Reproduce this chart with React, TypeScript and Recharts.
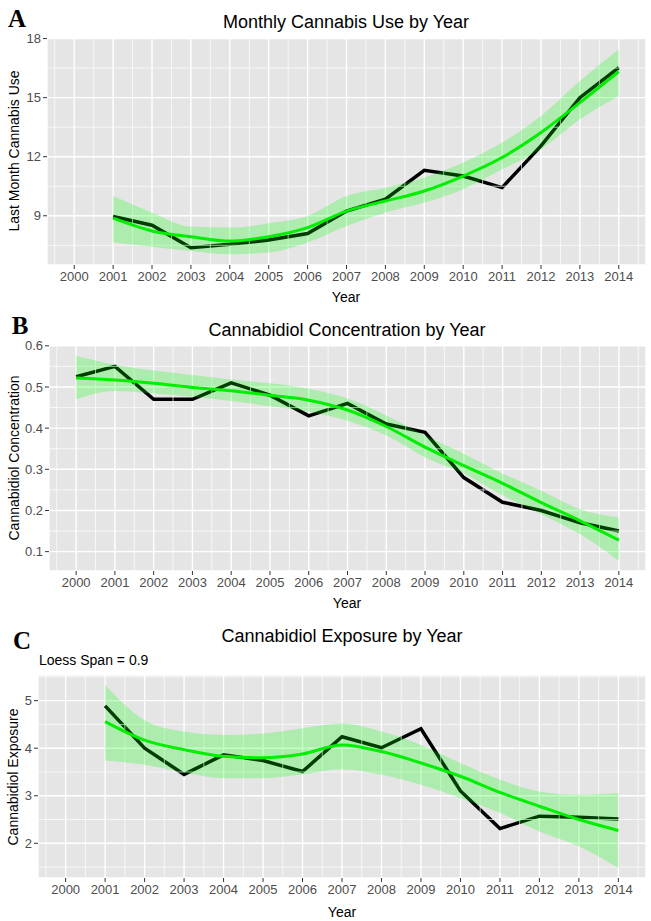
import { ComposedChart, Line, Area, XAxis, YAxis, CartesianGrid, ReferenceLine } from 'recharts'

const years = [2000, 2001, 2002, 2003, 2004, 2005, 2006, 2007, 2008, 2009, 2010, 2011, 2012, 2013, 2014]
const minorYears = [1999.5, 2000.5, 2001.5, 2002.5, 2003.5, 2004.5, 2005.5, 2006.5, 2007.5, 2008.5, 2009.5, 2010.5, 2011.5, 2012.5, 2013.5, 2014.5]

// A: monthly cannabis use
const useYears = [2001, 2002, 2003, 2004, 2005, 2006, 2007, 2008, 2009, 2010, 2011, 2012, 2013, 2014]
const useObserved = [8.96, 8.52, 7.38, 7.55, 7.77, 8.1, 9.24, 9.84, 11.31, 11.02, 10.43, 12.55, 15.0, 16.53]
const useFit = [8.88, 8.23, 7.94, 7.72, 7.94, 8.4, 9.24, 9.75, 10.26, 11.02, 11.96, 13.23, 14.75, 16.33]
const useLower = [7.64, 7.43, 7.21, 7.04, 7.13, 7.64, 8.48, 9.16, 9.67, 10.35, 11.36, 12.38, 13.9, 15.09]
const useUpper = [10.0, 9.16, 8.45, 8.4, 8.62, 8.99, 10.0, 10.43, 10.94, 11.7, 12.72, 14.07, 15.85, 17.46]
const useTicks = [9, 12, 15, 18]
const useMinor = [7.5, 10.5, 13.5, 16.5]

// B: cannabidiol concentration
const concYears = [2000, 2001, 2002, 2003, 2004, 2005, 2006, 2007, 2008, 2009, 2010, 2011, 2012, 2013, 2014]
const concObserved = [0.525, 0.55, 0.47, 0.47, 0.51, 0.48, 0.43, 0.46, 0.41, 0.39, 0.28, 0.22, 0.2, 0.17, 0.15]
const concFit = [0.522, 0.517, 0.509, 0.499, 0.491, 0.48, 0.468, 0.444, 0.404, 0.354, 0.309, 0.266, 0.219, 0.175, 0.128]
const concLower = [0.47, 0.49, 0.484, 0.476, 0.466, 0.453, 0.44, 0.418, 0.382, 0.329, 0.29, 0.237, 0.191, 0.142, 0.078]
const concUpper = [0.576, 0.554, 0.54, 0.529, 0.518, 0.509, 0.496, 0.472, 0.431, 0.382, 0.338, 0.29, 0.248, 0.203, 0.183]
const concTicks = [0.1, 0.2, 0.3, 0.4, 0.5, 0.6]
const concMinor = [0.15, 0.25, 0.35, 0.45, 0.55]

// C: cannabidiol exposure
const expYears = [2001, 2002, 2003, 2004, 2005, 2006, 2007, 2008, 2009, 2010, 2011, 2012, 2013, 2014]
const expObserved = [4.89, 4.0, 3.45, 3.86, 3.74, 3.51, 4.24, 4.01, 4.41, 3.1, 2.31, 2.57, 2.55, 2.51]
const expFit = [4.56, 4.17, 3.97, 3.83, 3.8, 3.88, 4.07, 3.93, 3.69, 3.41, 3.07, 2.78, 2.5, 2.27]
const expLower = [3.74, 3.65, 3.49, 3.37, 3.37, 3.45, 3.56, 3.44, 3.23, 2.95, 2.64, 2.25, 1.94, 1.48]
const expUpper = [5.33, 4.59, 4.35, 4.28, 4.31, 4.42, 4.52, 4.35, 4.07, 3.69, 3.34, 3.09, 3.02, 3.06]
const expTicks = [2, 3, 4, 5]
const expMinor = [1.5, 2.5, 3.5, 4.5, 5.5]

const rows = (yrs: number[], obs: number[], fit: number[], lo: number[], hi: number[]) =>
  yrs.map((year, i) => ({ year, observed: obs[i], fit: fit[i], band: [lo[i], hi[i]] }))

const FONT = '"Liberation Sans", Arial, sans-serif'

interface PanelProps {
  data: any[]
  top: number
  height: number
  marginTop: number
  yWidth: number
  xHeight: number
  yDomain: [number, number]
  yTicks: number[]
  yMinor: number[]
}

function Panel({ data, top, height, marginTop, yWidth, xHeight, yDomain, yTicks, yMinor }: PanelProps) {
  return (
    <div style={{ position: 'absolute', left: 0, top }}>
      <ComposedChart width={651} height={height} data={data} margin={{ top: marginTop, right: 5, bottom: 0, left: 0 }}>
        <CartesianGrid fill="#e5e5e5" stroke="#ffffff" strokeWidth={1.4} />
        {minorYears.map((x) => (
          <ReferenceLine key={'vx' + x} x={x} stroke="#ffffff" strokeWidth={0.7} />
        ))}
        {yMinor.map((y) => (
          <ReferenceLine key={'hy' + y} y={y} stroke="#ffffff" strokeWidth={0.7} />
        ))}
        <XAxis
          type="number"
          dataKey="year"
          domain={[1999.3, 2014.7]}
          ticks={years}
          interval={0}
          allowDataOverflow
          height={xHeight}
          axisLine={false}
          tickLine={{ stroke: '#333333' }}
          tickSize={4}
          tickMargin={3}
          tick={{ fill: '#4d4d4d', fontSize: 13, fontFamily: FONT }}
        />
        <YAxis
          type="number"
          domain={yDomain}
          ticks={yTicks}
          interval={0}
          allowDataOverflow
          width={yWidth}
          axisLine={false}
          tickLine={{ stroke: '#333333' }}
          tickSize={4}
          tickMargin={2}
          tick={{ fill: '#4d4d4d', fontSize: 13, fontFamily: FONT }}
        />
        <Line type="linear" dataKey="observed" stroke="#000000" strokeWidth={3.5} dot={false} activeDot={false} isAnimationActive={false} zIndex={300} />
        <Area type="monotone" dataKey="band" stroke="none" fill="#00ff00" fillOpacity={0.24} isAnimationActive={false} zIndex={450} />
        <Line type="monotone" dataKey="fit" stroke="#00ee00" strokeWidth={3} dot={false} activeDot={false} isAnimationActive={false} zIndex={500} />
      </ComposedChart>
    </div>
  )
}

const txt = (x: number, y: number, s: React.CSSProperties = {}): React.CSSProperties => ({
  position: 'absolute',
  left: x,
  top: y,
  transform: 'translate(-50%, -50%)',
  whiteSpace: 'nowrap',
  fontFamily: FONT,
  color: '#000',
  lineHeight: 1,
  ...s,
})

const letter: React.CSSProperties = { fontFamily: '"Liberation Serif", "Times New Roman", serif', fontWeight: 'bold', fontSize: 25 }
const title: React.CSSProperties = { fontSize: 18 }
const axisTitle: React.CSSProperties = { fontSize: 14 }
const yTitle: React.CSSProperties = { fontSize: 14, transform: 'translate(-50%, -50%) rotate(-90deg)' }

export default function App() {
  return (
    <div style={{ position: 'absolute', left: 0, top: 0, width: 651, height: 921, background: '#ffffff', overflow: 'hidden' }}>
      <Panel data={rows(useYears, useObserved, useFit, useLower, useUpper)} top={0} height={306} marginTop={38} yWidth={47} xHeight={41} yDomain={[6.5, 18.03]} yTicks={useTicks} yMinor={useMinor} />
      <Panel data={rows(concYears, concObserved, concFit, concLower, concUpper)} top={306} height={306} marginTop={39} yWidth={49} xHeight={41} yDomain={[0.053, 0.602]} yTicks={concTicks} yMinor={concMinor} />
      <Panel data={rows(expYears, expObserved, expFit, expLower, expUpper)} top={612} height={309} marginTop={63} yWidth={38} xHeight={43} yDomain={[1.27, 5.54]} yTicks={expTicks} yMinor={expMinor} />

      <div style={txt(17, 18, letter)}>A</div>
      <div style={txt(346, 22, title)}>Monthly Cannabis Use by Year</div>
      <div style={txt(14, 151, yTitle)}>Last Month Cannabis Use</div>
      <div style={txt(346, 297, axisTitle)}>Year</div>

      <div style={txt(20, 325, letter)}>B</div>
      <div style={txt(347, 330, title)}>Cannabidiol Concentration by Year</div>
      <div style={txt(14, 458, yTitle)}>Cannabidiol Concentration</div>
      <div style={txt(347, 603, axisTitle)}>Year</div>

      <div style={txt(22, 640, letter)}>C</div>
      <div style={txt(342, 636, title)}>Cannabidiol Exposure by Year</div>
      <div style={{ ...txt(39, 660, { fontSize: 14 }), transform: 'translate(0, -50%)' }}>Loess Span = 0.9</div>
      <div style={txt(13, 777, yTitle)}>Cannabidiol Exposure</div>
      <div style={txt(342, 912, axisTitle)}>Year</div>
    </div>
  )
}
